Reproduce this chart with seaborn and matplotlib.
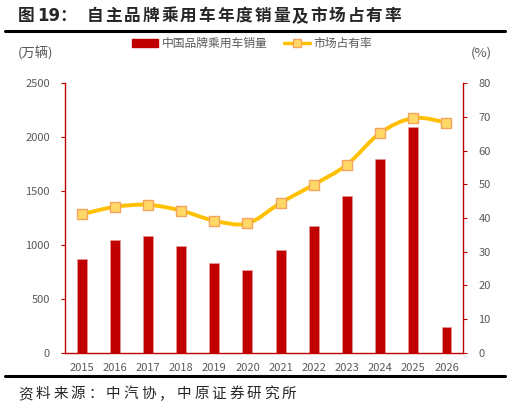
import numpy as np
import pandas as pd
import seaborn as sns
import matplotlib.pyplot as plt
from matplotlib.path import Path
from matplotlib.patches import PathPatch, Patch
from matplotlib.lines import Line2D

years = ['2015', '2016', '2017', '2018', '2019', '2020',
         '2021', '2022', '2023', '2024', '2025', '2026']
sales = [867, 1046, 1086, 994, 836, 769, 954, 1173, 1454, 1796, 2093, 238]
share = [41.1, 43.3, 43.9, 42.2, 39.2, 38.4, 44.5, 49.9, 55.8, 65.2, 69.6, 68.3]

df = pd.DataFrame({'year': years, 'sales': sales, 'share': share})

sns.set_style('white')
plt.rcParams['font.family'] = ['Noto Sans CJK SC', 'DejaVu Sans']

red = '#C00000'
gray = '#595959'
W, H = 510, 409

fig = plt.figure(figsize=(5.1, 4.09), dpi=100)
ax = fig.add_axes([0.1275, 0.137, 0.7805, 0.66])

sns.barplot(data=df, x='year', y='sales', color=red, width=0.3,
            saturation=1, ax=ax, edgecolor='#E8A0A0', linewidth=0.4)
ax.set_xlim(-0.5, 11.5)
ax.set_ylim(0, 2500)
ax.set_yticks(range(0, 2501, 500))
ax.set_xlabel('')
ax.set_ylabel('')

ax2 = ax.twinx()
ax2.set_ylim(0, 80)
ax2.set_yticks(range(0, 81, 10))

# smoothed line like Excel (Catmull-Rom converted to bezier segments)
xs = np.arange(len(share), dtype=float)
ys = np.array(share)
verts = [(xs[0], ys[0])]
codes = [Path.MOVETO]
for i in range(len(xs) - 1):
    p0 = (xs[i - 1], ys[i - 1]) if i > 0 else (xs[i], ys[i])
    p1 = (xs[i], ys[i])
    p2 = (xs[i + 1], ys[i + 1])
    p3 = (xs[i + 2], ys[i + 2]) if i + 2 < len(xs) else p2
    c1 = (p1[0] + (p2[0] - p0[0]) / 6, p1[1] + (p2[1] - p0[1]) / 6)
    c2 = (p2[0] - (p3[0] - p1[0]) / 6, p2[1] - (p3[1] - p1[1]) / 6)
    verts += [c1, c2, p2]
    codes += [Path.CURVE4] * 3
ax2.add_patch(PathPatch(Path(verts, codes), fill=False, edgecolor='#FFC000',
                        linewidth=2.8, zorder=3))
sns.scatterplot(x=xs, y=ys, marker='s', s=50, color='#FFD966',
                edgecolor='#F4A460', linewidth=1, ax=ax2, zorder=4)

for a in (ax, ax2):
    a.spines['top'].set_visible(False)
    for s in ['left', 'right', 'bottom']:
        a.spines[s].set_color(red)
        a.spines[s].set_linewidth(1)
    a.tick_params(axis='y', colors=red, labelcolor=gray, labelsize=8,
                  length=3, direction='out', pad=8)
ax.spines['right'].set_visible(False)
ax2.spines['left'].set_visible(False)
ax2.spines['bottom'].set_visible(False)

ax.set_xticks(np.arange(-0.5, 12, 1), minor=True)
ax.tick_params(axis='x', which='minor', length=4, color=red, direction='out')
ax.tick_params(axis='x', which='major', length=0, labelcolor=gray,
               labelsize=8, pad=7)


def spaced(x0, y, chars, step, **kw):
    # place characters one by one to get the wide spacing of the original
    for i, ch in enumerate(chars):
        fig.text((x0 + i * step) / W, 1 - y / H, ch, va='center', ha='left', **kw)


fig.text(18 / W, 1 - 16 / H, '图', fontsize=12, fontweight='bold',
         va='center', ha='left')
fig.text(37 / W, 1 - 16 / H, '19：', fontsize=12, fontweight='bold',
         family=['DejaVu Sans', 'Noto Sans CJK SC'], va='center', ha='left')
spaced(87, 16, '自主品牌乘用车年度销量及市场占有率', 18.6,
       fontsize=12, fontweight='bold')
fig.add_artist(Line2D([0.01, 0.99], [0.925, 0.925], color='black', lw=2.2))
fig.add_artist(Line2D([0.01, 0.99], [0.081, 0.081], color='black', lw=2.2))
spaced(18, 394, '资料来源：中汽协，中原证券研究所', 17.6, fontsize=10.5)

fig.text(18 / W, 1 - 53 / H, '(万辆)', fontsize=9.5, color=gray, va='center')
fig.text(492 / W, 1 - 53 / H, '(%)', fontsize=9.5, color=gray,
         va='center', ha='right')

handles = [Patch(facecolor=red, edgecolor=red),
           Line2D([], [], color='#FFC000', lw=2.5, marker='s',
                  markerfacecolor='#FFD966', markeredgecolor='#F4A460',
                  markersize=6)]
fig.legend(handles, ['中国品牌乘用车销量', '市场占有率'], loc='center',
           bbox_to_anchor=(0.495, 0.893), ncol=2, frameon=False, fontsize=8.5,
           labelcolor=gray, handlelength=2.2, handleheight=0.6,
           columnspacing=1.4, handletextpad=0.3)

fig.savefig('out.png', dpi=100)
